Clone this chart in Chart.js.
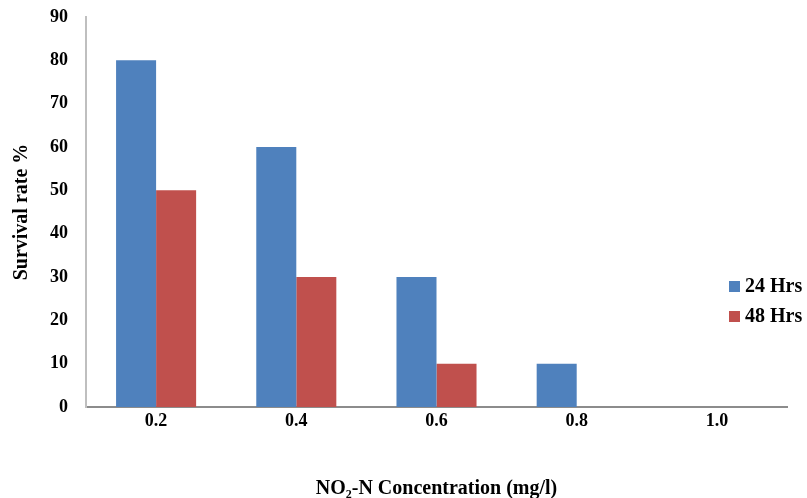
<html>
<head>
    <title>Survival rate</title>
    <style>
        body { margin: 0; background: #fff; font-family: 'Liberation Serif', 'Times New Roman', serif; }
        .wrap { position: relative; width: 807px; height: 498px; }
        #legend { position: absolute; left: 729px; top: 272px; font-weight: bold; font-size: 20px; }
        #legend div { height: 30px; line-height: 26px; white-space: nowrap; }
        #legend span.box { display: inline-block; width: 11px; height: 11px; margin-right: 5px; }
    </style>
    <script src="https://cdn.jsdelivr.net/npm/chart.js"></script>
</head>
<body>
<div class="wrap">
    <canvas id="c" width="807" height="498"></canvas>
    <div id="legend"></div>
</div>
<script>
    var categories = ['0.2', '0.4', '0.6', '0.8', '1.0'];
    var seriesNames = ['24 Hrs', '48 Hrs'];
    var hrs24 = [80, 60, 30, 10, 0];
    var hrs48 = [50, 30, 10, 0, 0];
    var colors = ['#4F81BD', '#C0504D'];

    var tickFont = { family: 'Liberation Serif', size: 18, weight: 'bold' };

    var chart = new Chart(document.getElementById('c'), {
        type: 'bar',
        data: {
            labels: categories,
            datasets: [
                { label: seriesNames[0], data: hrs24, backgroundColor: colors[0] },
                { label: seriesNames[1], data: hrs48, backgroundColor: colors[1] }
            ]
        },
        options: {
            responsive: false,
            animation: false,
            layout: { padding: { top: 17, right: 20, left: 6, bottom: 0 } },
            plugins: { legend: { display: false }, tooltip: { enabled: false } },
            datasets: { bar: { categoryPercentage: 0.571, barPercentage: 1 } },
            scales: {
                x: {
                    grid: { display: false, drawTicks: false },
                    border: { color: '#8c8c8c', width: 2 },
                    ticks: { color: '#000', font: tickFont, padding: 4 },
                    title: {
                        display: true, text: 'NO\u2082-N Concentration (mg/l)', color: '#000',
                        font: { family: 'Liberation Serif', size: 20, weight: 'bold' },
                        padding: { top: 0, bottom: -3 }
                    },
                    afterFit: function (s) { s.height = 91; s.paddingLeft = 0; s.paddingRight = 0; }
                },
                y: {
                    min: 0, max: 90,
                    grid: { display: false, drawTicks: false },
                    border: { color: '#bfbfbf', width: 2 },
                    ticks: { stepSize: 10, color: '#000', font: tickFont, padding: 18 },
                    title: {
                        display: true, text: 'Survival rate %', color: '#000',
                        font: { family: 'Liberation Serif', size: 20, weight: 'bold' }
                    },
                    afterFit: function (s) { s.width = 80; s.paddingTop = 0; s.paddingBottom = 0; }
                }
            }
        }
    });

    var legend = document.getElementById('legend');
    seriesNames.forEach(function (n, i) {
        var d = document.createElement('div');
        d.innerHTML = '<span class="box" style="background:' + colors[i] + '"></span>' + n;
        legend.appendChild(d);
    });
</script>
</body>
</html>
